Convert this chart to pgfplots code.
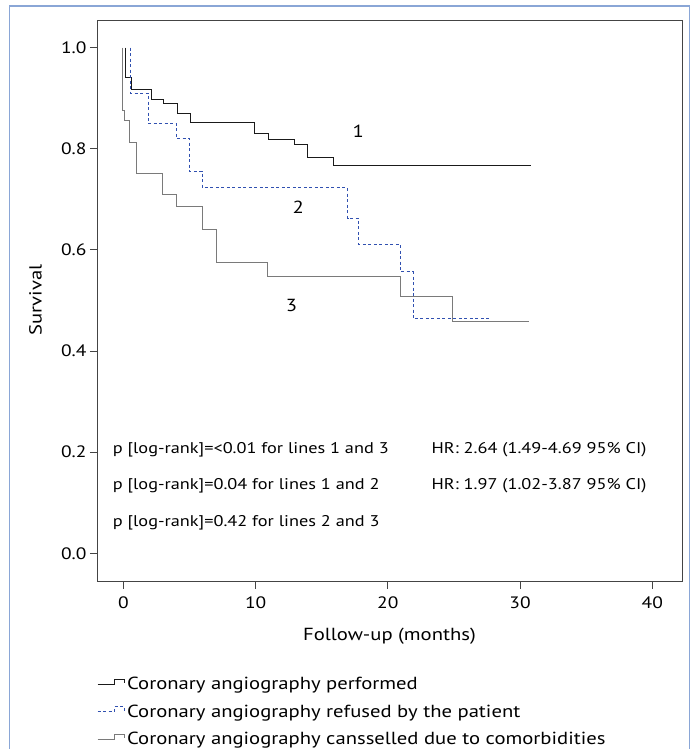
\documentclass[border=0pt]{standalone}
\usepackage{fontspec}
\setmainfont{PT Sans}[FakeStretch=1.18]
\usepackage{pgfplots}
\pgfplotsset{compat=1.18}
\definecolor{frameblue}{HTML}{8AA6D6}
\definecolor{kmblue}{HTML}{3050B0}
\definecolor{kmgrey}{HTML}{7A7A7A}
\definecolor{kmblack}{HTML}{1A1A1A}
\definecolor{axgrey}{HTML}{444444}
\newcommand{\tickfont}{\fontsize{16.5}{19}\selectfont}
\newcommand{\labfont}{\fontsize{17.5}{21}\selectfont}
\newcommand{\annfont}{\fontsize{15.5}{19}\selectfont}
\begin{document}
\begin{tikzpicture}[x=1pt,y=1pt]
\useasboundingbox (0,0) rectangle (696,749);
\draw[frameblue, line width=1.5pt] (9.5,-20) -- (9.5,743) -- (689.5,743) -- (689.5,-20);
\begin{axis}[
  at={(97pt,167.3pt)}, anchor=south west,
  scale only axis, width=585pt, height=561pt,
  xmin=-2.0, xmax=42.25, ymin=-0.056, ymax=1.053,
  xtick={0,10,20,30,40},
  ytick={0,0.2,0.4,0.6,0.8,1.0},
  yticklabel style={/pgf/number format/.cd, fixed, fixed zerofill, precision=1},
  xticklabel style={yshift=-5pt},
  /pgf/number format/assume math mode=true,
  tick label style={font=\tickfont},
  label style={font=\labfont},
  tick align=outside, major tick length=7pt,
  tick style={axgrey, line width=0.8pt},
  axis line style={axgrey, line width=0.9pt},
  xtick pos=bottom, ytick pos=left,
  xlabel={Follow-up (months)}, ylabel={Survival},
  xlabel style={at={(axis description cs:0.5,-0.097)}, anchor=center},
  ylabel style={at={(axis description cs:-0.105,0.502)}, anchor=center, rotate=0},
  legend image code/.code={\draw[#1] (0pt,0pt) -- (17pt,0pt) -- (17pt,5pt) -- (27pt,5pt) -- (27pt,1pt);},
  legend style={draw=none, fill=none, inner sep=0pt, at={(axis description cs:0.0,-0.1667)}, anchor=north west,
    row sep=9.5pt, nodes={inner sep=2pt, anchor=west}, font=\labfont},
  legend cell align=left,
]
\addplot[kmblack, line width=0.9pt, const plot] coordinates {
(0.17,1.0) (0.17,0.940) (0.64,0.917) (2.1,0.898) (3.06,0.889) (4.05,0.870) (5.08,0.851)
(9.92,0.830) (11.0,0.818) (12.95,0.808) (13.9,0.782) (15.9,0.767) (30.8,0.767)};
\addlegendentry{Coronary angiography performed}
\addplot[kmblue, line width=0.9pt, dash pattern=on 3pt off 2.5pt, const plot] coordinates {
(0.54,1.0) (0.54,0.910) (1.86,0.850) (4.0,0.820) (5.0,0.7555) (5.97,0.723)
(16.95,0.662) (17.8,0.611) (20.95,0.5565) (21.9,0.464) (27.65,0.464)};
\addlegendentry{Coronary angiography refused by the patient}
\addplot[kmgrey, line width=0.9pt, const plot] coordinates {
(-0.05,1.0) (-0.05,0.875) (0.04,0.855) (0.47,0.813) (0.98,0.751) (2.92,0.7095) (4.0,0.686)
(5.94,0.6395) (7.03,0.5757) (10.9,0.5467) (20.95,0.5085) (24.85,0.459) (30.7,0.459)};
\addlegendentry{Coronary angiography cansselled due to comorbidities}
\node[font=\labfont] at (axis cs:17.76,0.835) {1};
\node[font=\labfont] at (axis cs:13.22,0.684) {2};
\node[font=\labfont] at (axis cs:12.72,0.491) {3};
\node[anchor=west, inner sep=0pt, font=\annfont] at (axis cs:-0.82,0.204) {p [log-rank]=<0.01 for lines 1 and 3};
\node[anchor=west, inner sep=0pt, font=\annfont] at (axis cs:-0.82,0.133) {p [log-rank]=0.04 for lines 1 and 2};
\node[anchor=west, inner sep=0pt, font=\annfont] at (axis cs:-0.82,0.060) {p [log-rank]=0.42 for lines 2 and 3};
\node[anchor=west, inner sep=0pt, font=\annfont] at (axis cs:23.3,0.204) {HR: 2.64 (1.49-4.69 95\% CI)};
\node[anchor=west, inner sep=0pt, font=\annfont] at (axis cs:23.3,0.133) {HR: 1.97 (1.02-3.87 95\% CI)};
\end{axis}
\end{tikzpicture}
\end{document}
